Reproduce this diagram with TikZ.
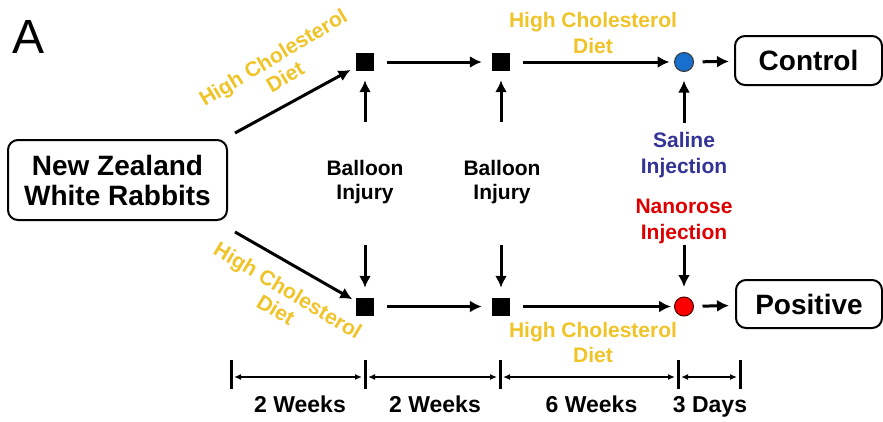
\documentclass[tikz,border=0pt]{standalone}
\usepackage{fontspec}
\setmainfont{Liberation Sans}
\usetikzlibrary{arrows.meta}
\definecolor{gold}{RGB}{240,196,40}
\definecolor{salblue}{RGB}{52,52,150}
\definecolor{nanored}{RGB}{222,0,0}
\definecolor{circblue}{RGB}{24,112,204}
\definecolor{circred}{RGB}{250,0,0}
\begin{document}
\begin{tikzpicture}[x=1pt,y=-1pt,
  arr/.style={line width=3pt,-{Latex[length=12pt,width=12pt]}},
  tarr/.style={line width=1.5pt,{Latex[length=7pt,width=6pt]}-{Latex[length=7pt,width=6pt]},shorten <=3pt,shorten >=3pt},
  tickbar/.style={line width=3pt},
  box/.style={draw,line width=2pt,rounded corners=10pt,inner sep=0pt,align=center},
  sq/.style={fill=black,minimum size=18pt,inner sep=0pt},
  dot/.style={circle,draw,line width=1pt,minimum size=19pt,inner sep=0pt},
  lbl/.style={font=\bfseries\fontsize{21}{21}\selectfont,anchor=base,inner sep=0pt},
  tlbl/.style={font=\bfseries\fontsize{23}{23}\selectfont,anchor=base,inner sep=0pt},
  rot/.style={font=\bfseries\fontsize{21}{23}\selectfont,text=gold,align=center,inner sep=0pt}]
\useasboundingbox[fill=white] (0,0) rectangle (883,421);

% panel letter
\node[font=\fontsize{48}{48}\selectfont,anchor=base,inner sep=0pt] (A) at (29,53) {A};

% boxes
\node[box,minimum width=219pt,minimum height=80pt,font=\bfseries\fontsize{28}{30}\selectfont] (nz) at (117.5,180) {New Zealand\\White Rabbits};
\node[box,minimum width=147pt,minimum height=49pt,font=\bfseries\fontsize{28}{28}\selectfont] (ctrl) at (808.5,60.5) {Control};
\node[box,minimum width=146pt,minimum height=48pt,font=\bfseries\fontsize{28}{28}\selectfont] (pos) at (809,304) {Positive};

% squares and circles
\node[sq] (s1) at (365,62) {};
\node[sq] (s2) at (501,62) {};
\node[sq] (s3) at (365,306.5) {};
\node[sq] (s4) at (501,306.5) {};
\node[dot,fill=circblue,draw=black!80] (c1) at (684,62) {};
\node[dot,fill=circred,draw=black!70!red] (c2) at (684,306.5) {};

% diagonal arrows
\coordinate (d1) at (235,133);
\coordinate (d2) at (235,232);
\draw[arr,shorten >=6pt] (d1) -- (s1);
\draw[arr,shorten >=4pt] (d2) -- (s3);

% horizontal arrows
\draw[arr,shorten <=13pt,shorten >=10pt] (s1) -- (s2);
\draw[arr,shorten <=13pt,shorten >=4.5pt] (s2) -- (c1);
\draw[arr,shorten <=8.5pt,shorten >=5pt] (c1) -- (ctrl);
\draw[arr,shorten <=13pt,shorten >=10pt] (s3) -- (s4);
\draw[arr,shorten <=13pt,shorten >=3pt] (s4) -- (c2);
\draw[arr,shorten <=8.5pt,shorten >=6pt] (c2) -- (pos);

% vertical arrows
\coordinate (v1) at (365,122);
\coordinate (v2) at (501,122);
\coordinate (v3) at (684,123);
\coordinate (v4) at (365,245);
\coordinate (v5) at (501,245);
\coordinate (v6) at (684,245);
\draw[arr,shorten >=9pt] (v1) -- (s1);
\draw[arr,shorten >=9pt] (v2) -- (s2);
\draw[arr,shorten >=8.5pt] (v3) -- (c1);
\draw[arr,shorten >=9.5pt] (v4) -- (s3);
\draw[arr,shorten >=9.5pt] (v5) -- (s4);
\draw[arr,shorten >=9.5pt] (v6) -- (c2);

% labels
\node[lbl] (b1a) at (365,175) {Balloon};
\node[lbl] (b1b) at (365,199) {Injury};
\node[lbl] (b2a) at (502,175) {Balloon};
\node[lbl] (b2b) at (502,199) {Injury};
\node[lbl,text=salblue] (sala) at (684,147) {Saline};
\node[lbl,text=salblue] (salb) at (684,173) {Injection};
\node[lbl,text=nanored] (nana) at (684,213) {Nanorose};
\node[lbl,text=nanored] (nanb) at (684,239) {Injection};
\node[lbl,text=gold] (hta) at (593,27) {High Cholesterol};
\node[lbl,text=gold] (htb) at (593,53) {Diet};
\node[lbl,text=gold] (hba) at (593,337) {High Cholesterol};
\node[lbl,text=gold] (hbb) at (593,362) {Diet};
\node[rot,rotate=31] (r1) at (279,67) {High Cholesterol\\Diet};
\node[rot,rotate=-31] (r2) at (282,300) {High Cholesterol\\Diet};

% timeline
\foreach \i/\x in {1/231,2/365,3/500,4/678,5/740}{
  \coordinate (tt\i) at (\x,360);
  \coordinate (tb\i) at (\x,389);
  \coordinate (tm\i) at (\x,377);
  \draw[tickbar] (tt\i) -- (tb\i);
}
\draw[tarr] (tm1) -- (tm2);
\draw[tarr] (tm2) -- (tm3);
\draw[tarr] (tm3) -- (tm4);
\draw[tarr] (tm4) -- (tm5);
\node[tlbl] (w1) at (300,412) {2 Weeks};
\node[tlbl] (w2) at (435,412) {2 Weeks};
\node[tlbl] (w3) at (591.5,412) {6 Weeks};
\node[tlbl] (w4) at (710,412) {3 Days};
\end{tikzpicture}
\end{document}
